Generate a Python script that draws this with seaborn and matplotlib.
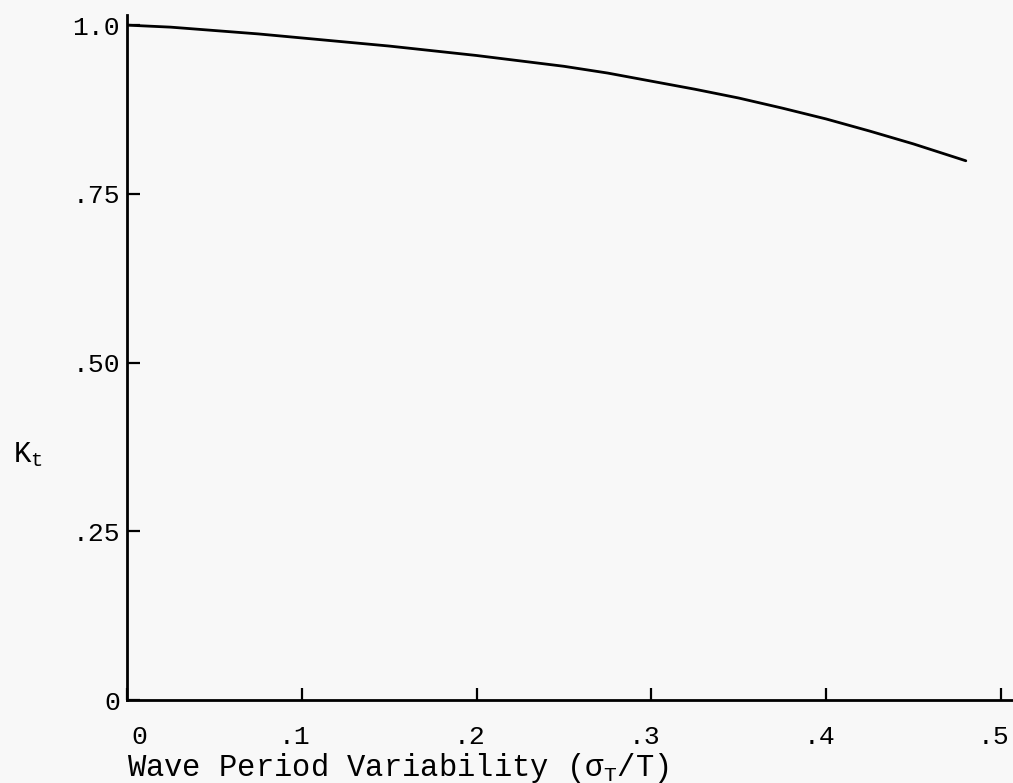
import matplotlib
matplotlib.use("Agg")
import matplotlib.pyplot as plt
import matplotlib.transforms as mtransforms
import seaborn as sns
import pandas as pd

# Data
sigma_ratio = [0.0, 0.025, 0.05, 0.075, 0.10, 0.125, 0.15, 0.175, 0.20, 0.225,
               0.25, 0.275, 0.30, 0.325, 0.35, 0.375, 0.40, 0.425, 0.45, 0.48]
kt_values = [1.0, 0.997, 0.992, 0.987, 0.981, 0.975, 0.969, 0.962, 0.955, 0.947,
             0.939, 0.929, 0.917, 0.905, 0.892, 0.877, 0.861, 0.843, 0.824, 0.799]
x_ticks = [0.0, 0.1, 0.2, 0.3, 0.4, 0.5]
x_tick_labels = ["0", ".1", ".2", ".3", ".4", ".5"]
y_ticks = [0.0, 0.25, 0.50, 0.75, 1.0]
y_tick_labels = ["0", ".25", ".50", ".75", "1.0"]

df = pd.DataFrame({"x": sigma_ratio, "kt": kt_values})

sns.set_theme(style="ticks")
plt.rcParams["font.family"] = ["Liberation Mono", "DejaVu Sans Mono"]
plt.rcParams["mathtext.fontset"] = "custom"
plt.rcParams["mathtext.rm"] = "Liberation Mono"

bg = "#f8f8f8"
fig = plt.figure(figsize=(10.13, 7.83), dpi=100, facecolor=bg)
ax = fig.add_axes([127 / 1013, 1 - 700 / 783, 886 / 1013, 685 / 783], facecolor=bg)

sns.lineplot(data=df, x="x", y="kt", ax=ax, color="black", linewidth=2.0)

ax.set_xlim(0, 0.507)
ax.set_ylim(0, 1.015)
ax.set_xticks(x_ticks)
ax.set_xticklabels(x_tick_labels)
ax.set_yticks(y_ticks)
ax.set_yticklabels(y_tick_labels)

for s in ["top", "right"]:
    ax.spines[s].set_visible(False)
for s in ["left", "bottom"]:
    ax.spines[s].set_linewidth(2.0)
    ax.spines[s].set_color("black")

ax.tick_params(axis="x", direction="in", length=9, width=1.6, pad=18,
               labelsize=19, colors="black")
ax.tick_params(axis="y", direction="in", length=9, width=1.6, pad=5,
               labelsize=19, colors="black")

# small horizontal nudges to mimic the typed labels
for lbl in ax.get_xticklabels():
    dx = 12 / 100 if lbl.get_text() == "0" else -7 / 100
    lbl.set_transform(lbl.get_transform() +
                      mtransforms.ScaledTranslation(dx, 0, fig.dpi_scale_trans))

ax.set_xlabel("Wave Period Variability (σ$_{\\mathregular{T}}$/T)", fontsize=22,
              color="black", ha="left", va="baseline")
ax.xaxis.set_label_coords(0.0, -0.111)
ax.set_ylabel("K$_{\\mathregular{t}}$", fontsize=21, rotation=0, color="black",
              va="center", ha="center")
ax.yaxis.set_label_coords(-0.112, 0.358)

fig.savefig("out.png", dpi=100, facecolor=bg)
